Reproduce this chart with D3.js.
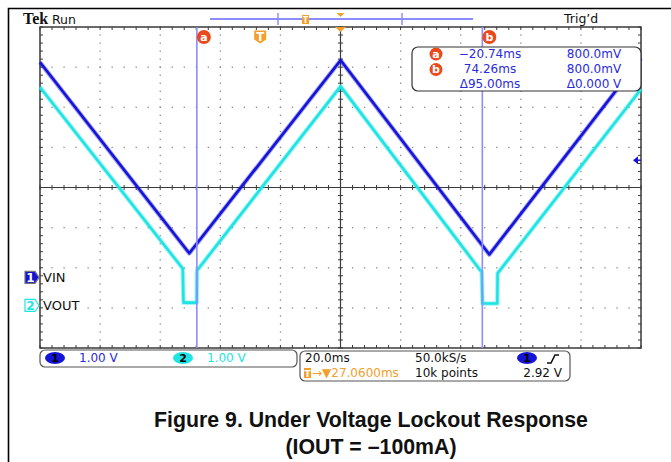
<!DOCTYPE html>
<html><head><meta charset="utf-8">
<script src="https://cdn.jsdelivr.net/npm/d3@7"></script>
<style>body{margin:0;background:#fff}svg{display:block;font-family:"DejaVu Sans",sans-serif}</style>
</head><body><svg id="c" width="671" height="462"></svg>
<script>
// ---- data ----
const timePerDiv = 20;          // ms/div
const horizDelay = 27.06;       // ms, trigger -> screen centre
const ch1VoltsPerDiv = 1.0, ch2VoltsPerDiv = 1.0;
const ch1Position = -2.24, ch2Position = -2.94; // divisions
const trigLevel = 2.92;         // V on ch1
const ch1Time = [-72.94, -23.26, 27.1, 76.58, 127.06];
const ch1Volt = [5.36, 0.60, 5.41, 0.57, 5.46];
const ch2Time = [-72.94, -25.45, -25.19, -20.79, -20.69, 27.1, 74.05, 74.32, 79.24, 79.34, 127.06];
const ch2Volt = [5.44, 0.92, 0.07, 0.07, 0.87, 5.46, 0.83, 0.05, 0.05, 0.80, 5.39];
const cursorTimes = [-20.74, 74.26];
const cursorNames = ["a", "b"];
const readTime = ["\u221220.74ms", "74.26ms", "\u039495.00ms"];
const readVolt = ["800.0mV", "800.0mV", "\u03940.000 V"];
const channelNames = ["VIN", "VOUT"];
const chScaleText = ["1.00 V", "1.00 V"];
const timebaseText = ["20.0ms", "50.0kS/s", "2.92 V"];
const delayText = "\u2192\u25BC27.0600ms";
const recordText = "10k points";
const caption = ["Figure 9. Under Voltage Lockout Response", "(IOUT = \u2013100mA)"];

const blue = "#1414d8", cyan = "#1ee4e4", cursorCol = "#8c8cff", orange = "#f2a02a", red = "#e84a1c";

const svg = d3.select("#c");
svg.append("rect").attr("width", 671).attr("height", 462).attr("fill", "#fff");
// page frame
svg.append("path").attr("d", "M8.5,462V8.5H671").attr("fill", "none").attr("stroke", "#000").attr("stroke-width", 1.6);

const L = 40, R = 641, T = 27, B = 348;
const gx = d3.scaleLinear().domain([0, 10]).range([L, R]);
const gy = d3.scaleLinear().domain([-4, 4]).range([B, T]);
const x = d3.scaleLinear().domain([horizDelay - 5 * timePerDiv, horizDelay + 5 * timePerDiv]).range([L, R]);
const y1 = v => gy(v / ch1VoltsPerDiv + ch1Position);
const y2 = v => gy(v / ch2VoltsPerDiv + ch2Position);

// ---- graticule ----
const g = svg.append("g");
const dotCol = "#8a8a8a";
const minorX = d3.range(0, 10.001, 0.2), minorY = d3.range(-4, 4.001, 0.2);
[1,2,3,4,6,7,8,9].forEach(i => minorY.forEach(j => g.append("rect").attr("x", gx(i) - 0.6).attr("y", gy(j) - 0.6).attr("width", 1.3).attr("height", 1.3).attr("fill", dotCol)));
[-3,-2,-1,1,2,3].forEach(k => minorX.forEach(j => g.append("rect").attr("x", gx(j) - 0.6).attr("y", gy(k) - 0.6).attr("width", 1.3).attr("height", 1.3).attr("fill", dotCol)));
const ax = "#3a3a3a";
g.append("line").attr("x1", L).attr("x2", R).attr("y1", gy(0)).attr("y2", gy(0)).attr("stroke", ax).attr("stroke-width", 1.2);
g.append("line").attr("y1", T).attr("y2", B).attr("x1", gx(5)).attr("x2", gx(5)).attr("stroke", ax).attr("stroke-width", 1.2);
minorX.forEach(j => {
  g.append("line").attr("x1", gx(j)).attr("x2", gx(j)).attr("y1", gy(0) - 2.5).attr("y2", gy(0) + 2.5).attr("stroke", ax);
  g.append("line").attr("x1", gx(j)).attr("x2", gx(j)).attr("y1", T).attr("y2", T + 3).attr("stroke", ax);
  g.append("line").attr("x1", gx(j)).attr("x2", gx(j)).attr("y1", B).attr("y2", B - 3).attr("stroke", ax);
});
minorY.forEach(j => {
  g.append("line").attr("y1", gy(j)).attr("y2", gy(j)).attr("x1", gx(5) - 2.5).attr("x2", gx(5) + 2.5).attr("stroke", ax);
  g.append("line").attr("y1", gy(j)).attr("y2", gy(j)).attr("x1", L).attr("x2", L + 3).attr("stroke", ax);
  g.append("line").attr("y1", gy(j)).attr("y2", gy(j)).attr("x1", R).attr("x2", R - 3).attr("stroke", ax);
});
g.append("rect").attr("x", L).attr("y", T).attr("width", R - L).attr("height", B - T).attr("fill", "none").attr("stroke", ax).attr("stroke-width", 1.5);

// ---- traces ----
const line1 = d3.line().x(i => x(ch1Time[i])).y(i => y1(ch1Volt[i]));
const line2 = d3.line().x(i => x(ch2Time[i])).y(i => y2(ch2Volt[i]));
const idx1 = d3.range(ch1Time.length), idx2 = d3.range(ch2Time.length);
[[line2, idx2, cyan], [line1, idx1, blue]].forEach(([ln, idx, col]) => {
  svg.append("path").attr("d", ln(idx)).attr("fill", "none").attr("stroke", col).attr("stroke-width", 4.5).attr("stroke-opacity", 0.4).attr("stroke-linejoin", "round");
  svg.append("path").attr("d", ln(idx)).attr("fill", "none").attr("stroke", col).attr("stroke-width", 2.6).attr("stroke-linejoin", "round");
});

// ---- cursors ----
cursorTimes.forEach((t, i) => {
  svg.append("line").attr("x1", x(t)).attr("x2", x(t)).attr("y1", T).attr("y2", B).attr("stroke", cursorCol).attr("stroke-width", 1.6);
});
function badge(cx, cy, letter, r) {
  svg.append("circle").attr("cx", cx).attr("cy", cy).attr("r", r).attr("fill", red);
  svg.append("text").attr("x", cx).attr("y", cy + 3.8).attr("text-anchor", "middle").attr("fill", "#fff").attr("font-weight", "bold").attr("font-size", 11).text(letter);
}
cursorTimes.forEach((t, i) => badge(x(t) + 7, 37, cursorNames[i], 7));
// trigger T marker
function tShield(cx, cy, w, h) {
  svg.append("path").attr("d", `M${cx - w/2},${cy - h/2}h${w}v${h*0.7}l${-w/2},${h*0.3}l${-w/2},${-h*0.3}z`).attr("fill", orange);
  svg.append("text").attr("x", cx).attr("y", cy + h*0.3).attr("text-anchor", "middle").attr("fill", "#fff").attr("font-weight", "bold").attr("font-size", h*0.9).text("T");
}
tShield(x(0) + 1, 37, 12, 13);
// top record bar
svg.append("line").attr("x1", 210).attr("x2", 473).attr("y1", 19).attr("y2", 19).attr("stroke", cursorCol).attr("stroke-width", 2);
[278, 402].forEach(px => svg.append("line").attr("x1", px).attr("x2", px).attr("y1", 13).attr("y2", 25).attr("stroke", cursorCol).attr("stroke-width", 1.5));
svg.append("rect").attr("x", 302).attr("y", 15).attr("width", 7).attr("height", 9).attr("fill", orange);
svg.append("text").attr("x", 305.5).attr("y", 22.5).attr("text-anchor", "middle").attr("fill", "#fff").attr("font-size", 8).attr("font-weight", "bold").text("T");
svg.append("path").attr("d", `M${gx(5)-4},13h8l-4,4z`).attr("fill", orange);
svg.append("path").attr("d", `M${gx(5)-5.5},${T}h11l-5.5,5z`).attr("fill", orange);

// trigger level arrow (right)
const ty = y1(trigLevel);
svg.append("path").attr("d", `M${R-8},${ty}l5,-4v8z`).attr("fill", blue);
svg.append("line").attr("x1", R - 4).attr("x2", R).attr("y1", ty).attr("y2", ty).attr("stroke", blue).attr("stroke-width", 1.5);

// ground markers
function gndMarker(cy, num, fill, stroke, txtCol) {
  svg.append("path").attr("d", `M25,${cy-6}h10l4,6l-4,6h-10z`).attr("fill", fill).attr("stroke", stroke).attr("stroke-width", 1.2);
  svg.append("text").attr("x", 30.5).attr("y", cy + 4.5).attr("text-anchor", "middle").attr("fill", txtCol).attr("font-size", 12).attr("font-weight", "bold").text(num);
}
gndMarker(y1(0), "1", blue, "#777", "#fff");
gndMarker(y2(0), "2", "#fff", cyan, cyan);
svg.append("text").attr("x", 43).attr("y", y1(0) + 5).attr("font-size", 13).attr("fill", "#111").text(channelNames[0]);
svg.append("text").attr("x", 43).attr("y", y2(0) + 5).attr("font-size", 13).attr("fill", "#111").text(channelNames[1]);

// header text
svg.append("text").attr("x", 23).attr("y", 24).style("font-family", "'Liberation Serif', serif").attr("font-weight", "bold").attr("font-size", 16).attr("fill", "#111").text("Tek");
svg.append("text").attr("x", 52).attr("y", 24).attr("font-size", 12.5).attr("fill", "#111").text("Run");
svg.append("text").attr("x", 564).attr("y", 23).attr("font-size", 12.5).attr("fill", "#111").text("Trig\u2019d");

// cursor readout box
svg.append("rect").attr("x", 412).attr("y", 47).attr("width", 229).attr("height", 44).attr("rx", 6).attr("fill", "#fff").attr("stroke", "#333").attr("stroke-width", 1.2);
badge(436, 54, "a", 6.5);
badge(436, 69.5, "b", 6.5);
readTime.forEach((s, i) => svg.append("text").attr("x", 490).attr("y", 58 + i * 15).attr("text-anchor", "middle").attr("font-size", 12).attr("fill", "#2a2ae0").text(s));
readVolt.forEach((s, i) => svg.append("text").attr("x", 594).attr("y", 58 + i * 15).attr("text-anchor", "middle").attr("font-size", 12).attr("fill", "#2a2ae0").text(s));

// bottom status boxes
svg.append("rect").attr("x", 40).attr("y", 350).attr("width", 257).attr("height", 17).attr("rx", 5).attr("fill", "#fff").attr("stroke", "#555").attr("stroke-width", 1.2);
svg.append("ellipse").attr("cx", 55).attr("cy", 358).attr("rx", 10).attr("ry", 6).attr("fill", blue);
svg.append("text").attr("x", 55).attr("y", 362).attr("text-anchor", "middle").attr("font-size", 11).attr("font-weight", "bold").attr("fill", "#000").text("1");
svg.append("text").attr("x", 79).attr("y", 362).attr("font-size", 12).attr("fill", "#2a2ae0").text(chScaleText[0]);
svg.append("ellipse").attr("cx", 183).attr("cy", 358).attr("rx", 10).attr("ry", 6).attr("fill", cyan);
svg.append("text").attr("x", 183).attr("y", 362).attr("text-anchor", "middle").attr("font-size", 11).attr("font-weight", "bold").attr("fill", "#000").text("2");
svg.append("text").attr("x", 207).attr("y", 362).attr("font-size", 12).attr("fill", cyan).text(chScaleText[1]);

svg.append("rect").attr("x", 300).attr("y", 351).attr("width", 270).attr("height", 30).attr("rx", 5).attr("fill", "#fff").attr("stroke", "#555").attr("stroke-width", 1.2);
svg.append("text").attr("x", 305).attr("y", 362).attr("font-size", 12).attr("fill", "#111").text(timebaseText[0]);
svg.append("text").attr("x", 415).attr("y", 362).attr("font-size", 12).attr("fill", "#111").text(timebaseText[1]);
svg.append("ellipse").attr("cx", 527).attr("cy", 358).attr("rx", 10).attr("ry", 6).attr("fill", blue);
svg.append("text").attr("x", 527).attr("y", 362).attr("text-anchor", "middle").attr("font-size", 11).attr("font-weight", "bold").attr("fill", "#000").text("1");
svg.append("path").attr("d", "M547,363h4l4,-8h4").attr("fill", "none").attr("stroke", "#111").attr("stroke-width", 1.6);
svg.append("rect").attr("x", 304).attr("y", 368).attr("width", 7).attr("height", 10).attr("fill", orange);
svg.append("text").attr("x", 307.5).attr("y", 376.5).attr("text-anchor", "middle").attr("fill", "#fff").attr("font-size", 9).attr("font-weight", "bold").text("T");
svg.append("text").attr("x", 312).attr("y", 377).attr("font-size", 12).attr("fill", orange).text(delayText);
svg.append("text").attr("x", 415).attr("y", 377).attr("font-size", 12).attr("fill", "#111").text(recordText);
svg.append("text").attr("x", 562).attr("y", 377).attr("text-anchor", "end").attr("font-size", 12).attr("fill", "#111").text(timebaseText[2]);

// caption
caption.forEach((s, i) => svg.append("text").attr("x", 371).attr("y", 427 + i * 27).attr("text-anchor", "middle")
  .style("font-family", "'Liberation Sans', Arial, sans-serif").attr("font-weight", "bold").attr("font-size", 21.3).attr("fill", "#111").text(s));
</script></body></html>
